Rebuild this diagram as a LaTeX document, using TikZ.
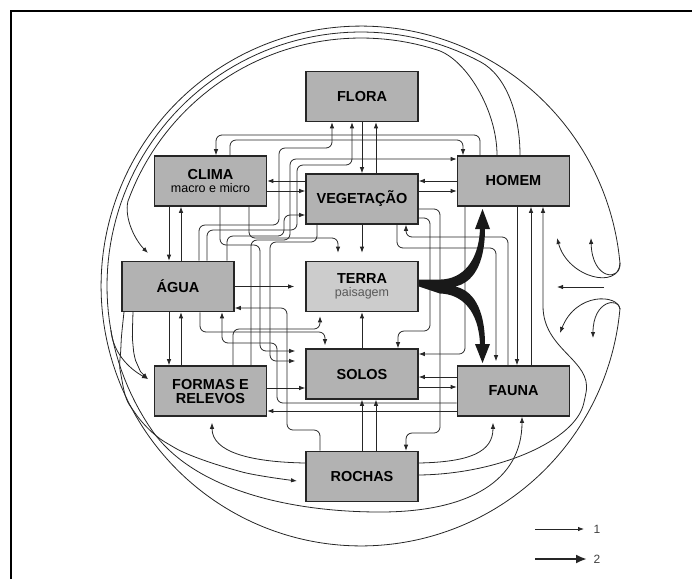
\documentclass[tikz,border=0pt]{standalone}
\usepackage{fontspec}
\setmainfont{Liberation Sans}
\usetikzlibrary{arrows.meta}

\begin{document}
\begin{tikzpicture}[x=1pt,y=-1pt,
 box/.style={draw=black!85,line width=1.6pt,fill=black!30,minimum width=112pt,minimum height=50pt,
   align=center,inner sep=1pt,font=\fontsize{14.5}{14}\selectfont\bfseries},
 ln/.style={draw=black!85,line width=0.8pt,rounded corners=6pt},
 ar/.style={ln,-{Latex[length=6pt,width=4.5pt]}},
 fat/.style={draw=black!85,line width=2.4pt,-{Latex[length=11pt,width=9pt]}}]
\useasboundingbox (0,0) rectangle (692,579);
\draw[line width=1.6pt] (11,579) -- (11,11) -- (692,11);

% boxes
\node[box] (flora) at (362,96.5) {FLORA};
\node[box] (clima) at (210.5,181) {CLIMA\\[-1pt]{\mdseries\fontsize{12.5}{12.5}\selectfont macro e micro}};
\node[box] (veg) at (362,199) {VEGETAÇÃO};
\node[box] (homem) at (513.5,181) {HOMEM};
\node[box] (agua) at (178,286.5) {ÁGUA};
\node[box,fill=black!20] (terra) at (362,286.5) {TERRA\\[-1pt]{\mdseries\fontsize{12.5}{12.5}\selectfont\color{black!65}paisagem}};
\node[box] (formas) at (210.5,391) {FORMAS E\\RELEVOS};
\node[box] (solos) at (362,374) {SOLOS};
\node[box] (fauna) at (513.5,391) {FAUNA};
\node[box] (rochas) at (362,476.5) {ROCHAS};

% short links
\draw[ar] (362,0 |- flora.south) -- (362,0 |- veg.north);
\draw[ar] (376,0 |- veg.north) -- (376,0 |- flora.south);
\draw[ar] (169,0 |- clima.south) -- (169,0 |- agua.north);
\draw[ar] (181,0 |- agua.north) -- (181,0 |- clima.south);
\draw[ar] (169,0 |- agua.south) -- (169,0 |- formas.north);
\draw[ar] (181,0 |- formas.north) -- (181,0 |- agua.south);
\draw[ar] (veg.west |- 0,181) -- (clima.east |- 0,181);
\draw[ar] (clima.east |- 0,191) -- (veg.west |- 0,191);
\draw[ar] (homem.west |- 0,181) -- (veg.east |- 0,181);
\draw[ar] (veg.east |- 0,191) -- (homem.west |- 0,191);
\draw[ar,shorten >=8pt] (veg) -- (terra);
\draw[ar,shorten >=11pt] (agua) -- (terra);
\draw[ar] (solos) -- (terra);
\draw[ar] (formas.east |- 0,388) -- (solos.west |- 0,388);
\draw[ar] (fauna.west |- 0,377) -- (solos.east |- 0,377);
\draw[ar] (solos.east |- 0,387) -- (fauna.west |- 0,387);
\draw[ar] (362,0 |- rochas.north) -- (362,0 |- solos.south);
\draw[ar] (376,0 |- rochas.north) -- (376,0 |- solos.south);
\draw[ar] (fauna.west |- 0,411) -- (formas.east |- 0,411);
\draw[ar] (517,0 |- homem.south) -- (517,0 |- fauna.north);
\draw[ar] (531,0 |- fauna.north) -- (531,0 |- homem.south);

% upper bundle
\draw[ar] (480,0 |- homem.north) |- (216,135) -- (216,0 |- clima.north);
\draw[ar] (230,0 |- clima.north) |- (463,140) -- (463,0 |- homem.north);
\draw[ar] (199,0 |- agua.north) |- (279,225) |- (332,148) -- (332,0 |- flora.south);
\draw[ar] (207,0 |- agua.north) |- (297,230) |- (352,165) -- (352,0 |- flora.south);
\draw[ar] (251,0 |- formas.north) |- (290,240) |- (homem.west |- 0,159);
\draw[ar] (227,0 |- agua.north) |- (284,236) |- (veg.west |- 0,215);
\draw[ar,shorten >=8pt] (249,0 |- clima.south) |- (338,238) -- (338,0 |- terra.north);
\draw[ar,shorten >=10pt] (220,0 |- clima.south) |- (260,245) |- (solos.west |- 0,351);
\draw[ar,shorten >=10pt] (317,0 |- veg.south) |- (270,242) |- (solos.west |- 0,361);

% lower bundle
\draw[ar,shorten >=3pt] (200,0 |- agua.south) |- (325,332) -- (325,0 |- solos.north);
\draw[ar,shorten >=4pt] (233,0 |- formas.north) |- (320,329) -- (320,0 |- terra.south);
\draw[ar] (320,0 |- rochas.north) |- (287,430) |- (agua.east |- 0,308);
\draw[ar] (fauna.west |- 0,403) -| (277,343) -| (222,0 |- agua.south);

% right bundle
\draw[ar] (508,0 |- fauna.north) |- (406,237) -- (406,0 |- veg.south);
\draw[ar,shorten >=4pt] (397,0 |- veg.south) |- (496,248) -- (496,0 |- fauna.north);
\draw[ar] (veg.east |- 0,218) -| (430,331) -| (398,0 |- solos.north);
\draw[ar] (veg.east |- 0,209) -| (440,433) -| (406,0 |- rochas.north);
\draw[ar] (465,0 |- homem.south) |- (solos.east |- 0,354);

% rochas curves
\draw[ar,shorten >=6pt] (rochas.west |- 0,463) .. controls (250,462) and (212,452) .. (212,0 |- formas.south);
\draw[ar,shorten >=6pt] (rochas.east |- 0,463) .. controls (470,462) and (493,452) .. (493,0 |- fauna.south);
\draw[ar] (rochas.east |- 0,475) .. controls (500,474) and (575,440) .. (585,398)
  .. controls (592,360) and (543,350) .. (543,300) -- (543,0 |- homem.south);

% terra fan
\fill[black!90] (terra.east) ++(0,-7) -- ++(22,0) .. controls (462,279) and (479,262) .. (480,228)
  -- (485,228) .. controls (485,266) and (472,283) .. (455,286.5)
  .. controls (472,290) and (485,307) .. (485,345) -- (480,345)
  .. controls (479,311) and (462,294) .. (440,293.5) -- (terra.east) ++(0,7) -- cycle;
\fill[black!90] (475,229) -- (482.5,209) -- (490,229) -- cycle;
\fill[black!90] (475,344) -- (482.5,363) -- (490,344) -- cycle;

% outer ring with its two loops
\draw[ln] plot[domain=5:355,samples=140] ({361+260*cos(\x)},{286-260*sin(\x)});
\draw[ar] (620,263) .. controls (621,282) and (592,280) .. (591,238);
\draw[ar] (620,263) .. controls (619,290) and (568,278) .. (557,238);
\draw[ar] (620,309) .. controls (618,294) and (576,292) .. (560,333);
\draw[ar] (620,309) .. controls (619,297) and (593,300) .. (593,338);

% rings leaving homem
\draw[ar,sharp corners] (497,0 |- homem.north) .. controls (497,110) and (466.1,59.4) .. (437.6,50.1)
  -- plot[domain=72:160,samples=50] ({361+248*cos(\x)},{286-248*sin(\x)})
  .. controls (124,218) and (135,240) .. (148,253);
\draw[ar,sharp corners] (520,0 |- homem.north) .. controls (520,115) and (506.7,75.8) .. (480.2,61.7)
  -- plot[domain=62:215,samples=80] ({361+254*cos(\x)},{286-254*sin(\x)})
  .. controls (195,490) and (290,512) .. (380,512) .. controls (470,512) and (522,480) .. (522,0 |- fauna.south);
\draw[ar] (110.9,330.1) .. controls (113,352) and (128,368) .. (148,379);

% lines leaving agua downwards
\draw[ar] plot[smooth,tension=0.6] coordinates {(124,312) (121,345) (121,375) (133,410) (170,445)
  (235,470) (297,481)};
\draw[ar] plot[smooth,tension=0.6] coordinates {(133,312) (133,345) (138,366) (148,379)};

% entry from outside
\coordinate (infrom) at (604,287);
\coordinate (into) at (557,287);
\draw[ar] (infrom) -- (into);

% legend
\node[anchor=west,font=\fontsize{12}{12}\selectfont,text=black!75] (leg1) at (590,529) {1};
\node[anchor=west,font=\fontsize{12}{12}\selectfont,text=black!75] (leg2) at (590,559) {2};
\coordinate (leg1s) at (535,529);
\coordinate (leg2s) at (535,559);
\draw[ar,shorten >=6pt] (leg1s) -- (leg1.west);
\draw[fat,shorten >=3pt] (leg2s) -- (leg2.west);
\end{tikzpicture}
\end{document}
